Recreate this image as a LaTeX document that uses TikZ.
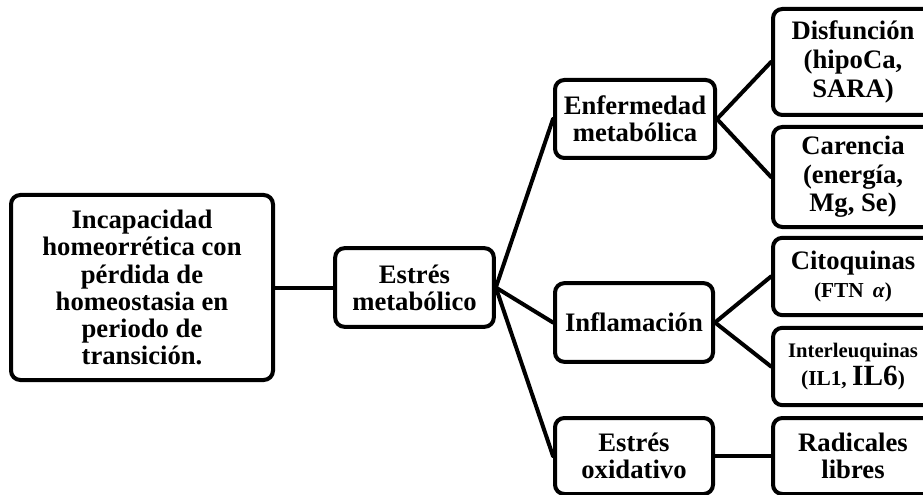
\documentclass[tikz,border=0pt]{standalone}
\usepackage{fontspec}
\setmainfont{Liberation Serif}
\begin{document}
\begin{tikzpicture}[x=0.75pt,y=-0.75pt,
  box/.style={draw=black, line width=3pt, rounded corners=7pt, fill=white,
    align=center, inner sep=0pt, font=\fontsize{20}{20.3}\selectfont\bfseries},
  link/.style={line width=3pt, line cap=round}]
\useasboundingbox (0,0) rectangle (923,495);
\clip (0,0) rectangle (923,495);
\node[box, minimum width=196.5pt, minimum height=138.75pt] (A) at (142,287.5)
  {Incapacidad\\homeorrética con\\pérdida de\\homeostasia en\\periodo de\\transición.};
\node[box, minimum width=119pt, minimum height=59pt] (B) at (414.5,287.5)
  {Estrés\\metabólico};
\node[box, minimum width=120pt, minimum height=58.5pt] (C) at (635,119)
  {Enfermedad\\metabólica};
\node[box, minimum width=118.5pt, minimum height=59pt] (D) at (634,322.5)
  {Inflamación};
\node[box, minimum width=118.5pt, minimum height=57pt] (E) at (634,456)
  {Estrés\\oxidativo};
\node[box, minimum width=120pt, minimum height=79.5pt] (F) at (853,62)
  {Disfunción\\[1.5pt](hipoCa,\\[1.5pt]SARA)};
\node[box, minimum width=120pt, minimum height=75pt] (G) at (853,177)
  {Carencia\\[1.2pt](energía,\\[1.2pt]Mg, Se)};
\node[box, minimum width=120pt, minimum height=58pt] (H) at (853,276.5)
  {Citoquinas\\[0pt]{\fontsize{16}{16}\selectfont (FTN\, \textit{α})}};
\node[box, minimum width=120pt, minimum height=58pt] (I) at (853,366.5)
  {{\fontsize{15.5}{16}\selectfont Interleuquinas}\\[1pt]{\fontsize{16}{16}\selectfont (IL1, }{\fontsize{22}{20}\selectfont IL6}{\fontsize{16}{16}\selectfont )}};
\node[box, minimum width=120pt, minimum height=57pt] (J) at (853,456)
  {Radicales\\libres};
\draw[link] (A.east) -- (B.west);
\draw[link] (B.east) -- (C.west);
\draw[link] (B.east) -- (D.west);
\draw[link] (B.east) -- (E.west);
\draw[link] (C.east) -- (F.west);
\draw[link] (C.east) -- (G.west);
\draw[link] (D.east) -- (H.west);
\draw[link] (D.east) -- (I.west);
\draw[link] (E.east) -- (J.west);
\end{tikzpicture}
\end{document}
